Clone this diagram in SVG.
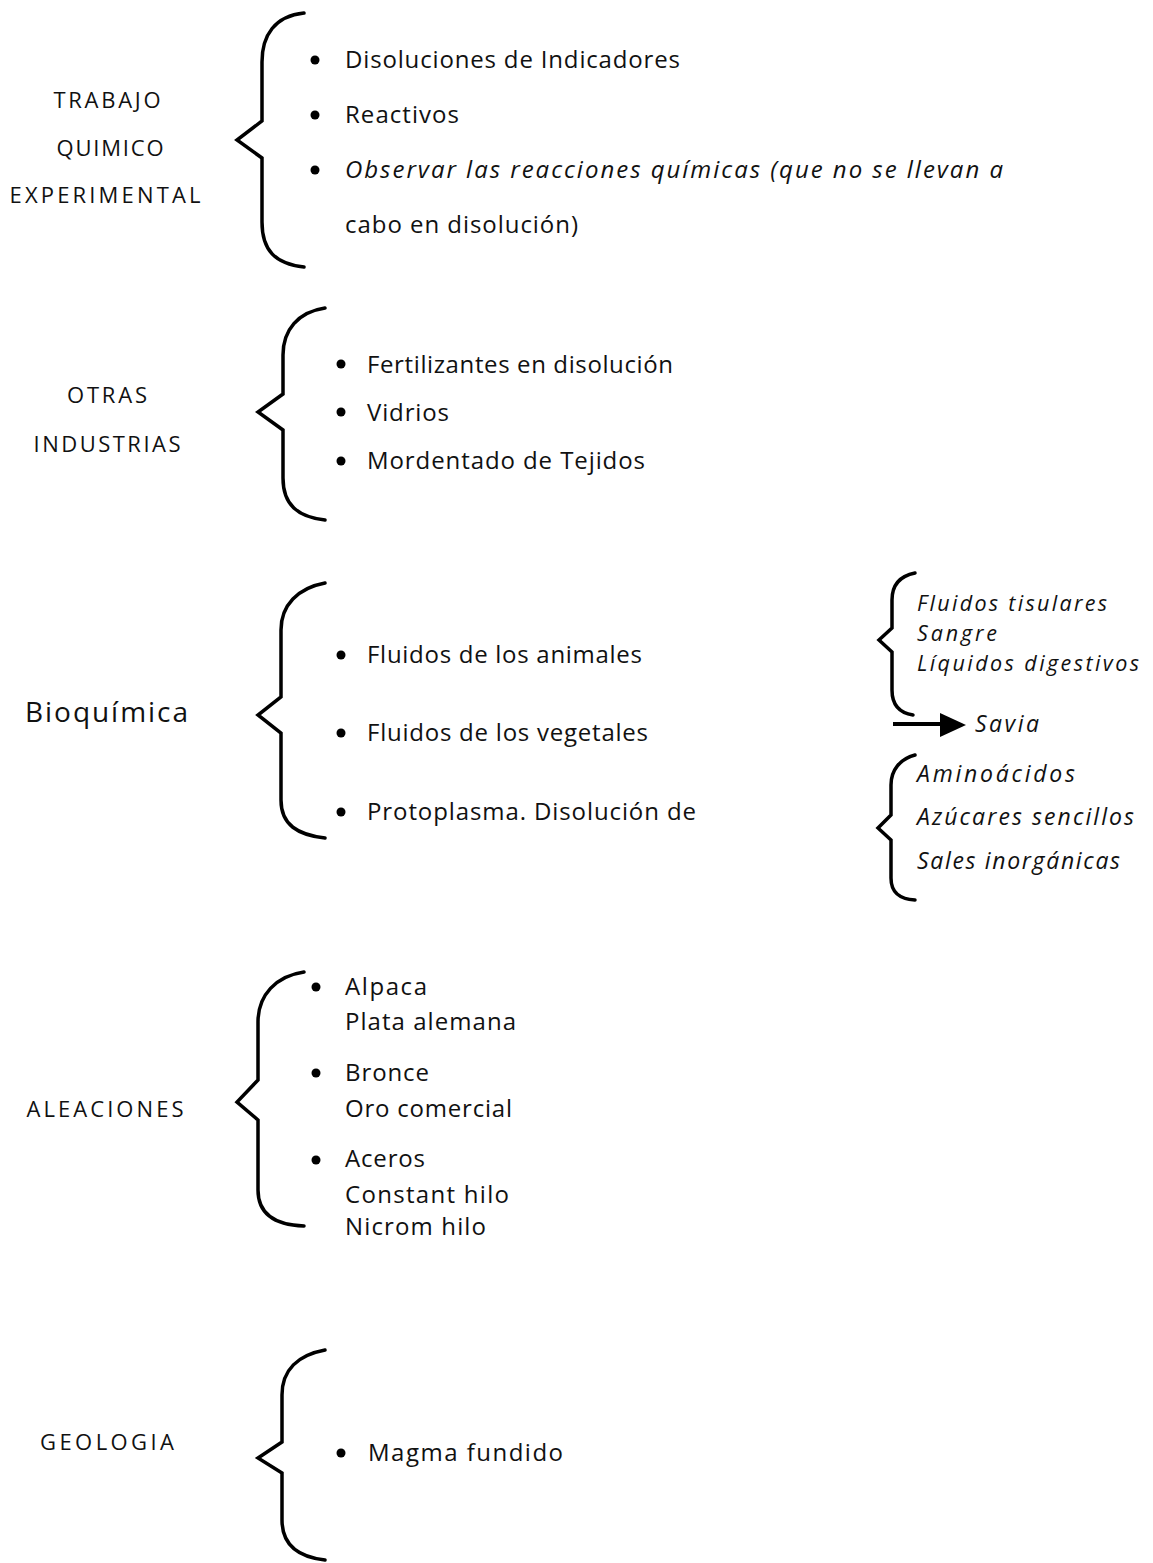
<svg xmlns="http://www.w3.org/2000/svg" width="1153" height="1563" viewBox="0 0 1153 1563">
  <style>
    .bg { fill: #ffffff; }
    .brace { fill: none; stroke: #000; stroke-width: 3.5; stroke-linecap: round; stroke-linejoin: miter; }
    .dot { fill: #000; }
    text { font-family: "Open Sans", "Noto Sans", "DejaVu Sans", sans-serif; fill: #111; }
    .head { font-size: 22px; text-anchor: middle; }
    .big { font-size: 28px; }
    .item { font-size: 24px; }
    .it { font-size: 23px; font-style: italic; }
    .it.tight { font-size: 21.5px; }
  </style>
  <rect class="bg" x="0" y="0" width="1153" height="1563"/>

  <!-- Trabajo químico experimental -->
  <g id="trabajo">
    <text class="head" x="107" y="108" textLength="107" lengthAdjust="spacing">TRABAJO</text>
    <text class="head" x="110" y="156" textLength="107" lengthAdjust="spacing">QUIMICO</text>
    <text class="head" x="105" y="203" textLength="191" lengthAdjust="spacing">EXPERIMENTAL</text>
    <path class="brace" d="M304,13 C275,16 262,35 262,62 L262,121 L237,140 L262,158 L262,222 C262,250 275,264 304,267"/>
    <circle class="dot" cx="315" cy="60" r="4.5"/>
    <circle class="dot" cx="315" cy="115" r="4.5"/>
    <circle class="dot" cx="315" cy="170" r="4.5"/>
    <text class="item" x="345" y="68" textLength="335" lengthAdjust="spacing">Disoluciones de Indicadores</text>
    <text class="item" x="345" y="123" textLength="114" lengthAdjust="spacing">Reactivos</text>
    <text class="item" x="345" y="178" textLength="658" lengthAdjust="spacing" font-style="italic">Observar las reacciones químicas (que no se llevan a</text>
    <text class="item" x="345" y="233" textLength="233" lengthAdjust="spacing">cabo en disolución)</text>
  </g>

  <!-- Otras industrias -->
  <g id="otras">
    <text class="head" x="107" y="403" textLength="80" lengthAdjust="spacing">OTRAS</text>
    <text class="head" x="107" y="452" textLength="147" lengthAdjust="spacing">INDUSTRIAS</text>
    <path class="brace" d="M325,308 C298,312 283,330 283,355 L283,394 L258,412 L283,430 L283,478 C283,505 298,517 325,520"/>
    <circle class="dot" cx="341" cy="364" r="4.5"/>
    <circle class="dot" cx="341" cy="412" r="4.5"/>
    <circle class="dot" cx="341" cy="461" r="4.5"/>
    <text class="item" x="367" y="373" textLength="306" lengthAdjust="spacing">Fertilizantes en disolución</text>
    <text class="item" x="367" y="421" textLength="82" lengthAdjust="spacing">Vidrios</text>
    <text class="item" x="367" y="469" textLength="278" lengthAdjust="spacing">Mordentado de Tejidos</text>
  </g>

  <!-- Bioquímica -->
  <g id="bioquimica">
    <text class="big" x="25" y="722" textLength="163" lengthAdjust="spacing">Bioquímica</text>
    <path class="brace" d="M325,583 C298,588 281,605 281,630 L281,697 L258,715 L281,733 L281,800 C281,825 298,835 325,838"/>
    <circle class="dot" cx="341" cy="655" r="4.5"/>
    <circle class="dot" cx="341" cy="733" r="4.5"/>
    <circle class="dot" cx="341" cy="812" r="4.5"/>
    <text class="item" x="367" y="663" textLength="275" lengthAdjust="spacing">Fluidos de los animales</text>
    <text class="item" x="367" y="741" textLength="281" lengthAdjust="spacing">Fluidos de los vegetales</text>
    <text class="item" x="367" y="820" textLength="329" lengthAdjust="spacing">Protoplasma. Disolución de</text>
  </g>

  <!-- Fluidos de los animales: detalle -->
  <g id="fluidos-animales">
    <path class="brace" d="M915,573 C900,576 892,585 892,600 L892,628 L879,640 L892,652 L892,690 C892,705 900,713 913,715"/>
    <text class="it tight" x="917" y="611" textLength="190" lengthAdjust="spacing">Fluidos tisulares</text>
    <text class="it tight" x="917" y="641" textLength="80" lengthAdjust="spacing">Sangre</text>
    <text class="it tight" x="917" y="671" textLength="222" lengthAdjust="spacing">Líquidos digestivos</text>
  </g>

  <!-- Fluidos de los vegetales: savia -->
  <g id="savia">
    <text class="it" x="975" y="732" textLength="64" lengthAdjust="spacing">Savia</text>
  </g>

  <!-- Protoplasma: detalle -->
  <g id="protoplasma">
    <path class="brace" d="M915,755 C900,759 891,770 891,785 L891,815 L878,828 L891,840 L891,878 C891,893 900,899 915,900"/>
    <text class="it" x="917" y="782" textLength="158" lengthAdjust="spacing">Aminoácidos</text>
    <text class="it" x="917" y="825" textLength="217" lengthAdjust="spacing">Azúcares sencillos</text>
    <text class="it" x="917" y="869" textLength="203" lengthAdjust="spacing">Sales inorgánicas</text>
  </g>

  <!-- Aleaciones -->
  <g id="aleaciones">
    <text class="head" x="105" y="1117" textLength="157" lengthAdjust="spacing">ALEACIONES</text>
    <path class="brace" d="M304,972 C276,976 258,995 258,1022 L258,1080 L237,1102 L258,1120 L258,1190 C258,1215 276,1225 304,1226"/>
    <circle class="dot" cx="316" cy="987" r="4.5"/>
    <circle class="dot" cx="316" cy="1073" r="4.5"/>
    <circle class="dot" cx="316" cy="1160" r="4.5"/>
    <text class="item" x="345" y="995" textLength="82" lengthAdjust="spacing">Alpaca</text>
    <text class="item" x="345" y="1030" textLength="171" lengthAdjust="spacing">Plata alemana</text>
    <text class="item" x="345" y="1081" textLength="84" lengthAdjust="spacing">Bronce</text>
    <text class="item" x="345" y="1117" textLength="167" lengthAdjust="spacing">Oro comercial</text>
    <text class="item" x="345" y="1167" textLength="80" lengthAdjust="spacing">Aceros</text>
    <text class="item" x="345" y="1203" textLength="164" lengthAdjust="spacing">Constant hilo</text>
    <text class="item" x="345" y="1235" textLength="141" lengthAdjust="spacing">Nicrom hilo</text>
  </g>

  <!-- Geología -->
  <g id="geologia">
    <text class="head" x="107" y="1450" textLength="134" lengthAdjust="spacing">GEOLOGIA</text>
    <path class="brace" d="M325,1350 C298,1355 282,1370 282,1395 L282,1442 L258,1458 L282,1473 L282,1520 C282,1545 298,1557 325,1560"/>
    <circle class="dot" cx="341" cy="1453" r="4.5"/>
    <text class="item" x="368" y="1461" textLength="195" lengthAdjust="spacing">Magma fundido</text>
  </g>

  <!-- Conectores -->
  <g id="connectors">
    <line x1="893" y1="724" x2="944" y2="724" stroke="#000" stroke-width="4"/>
    <polygon points="940,713 966,725 940,737" fill="#000"/>
  </g>
</svg>
